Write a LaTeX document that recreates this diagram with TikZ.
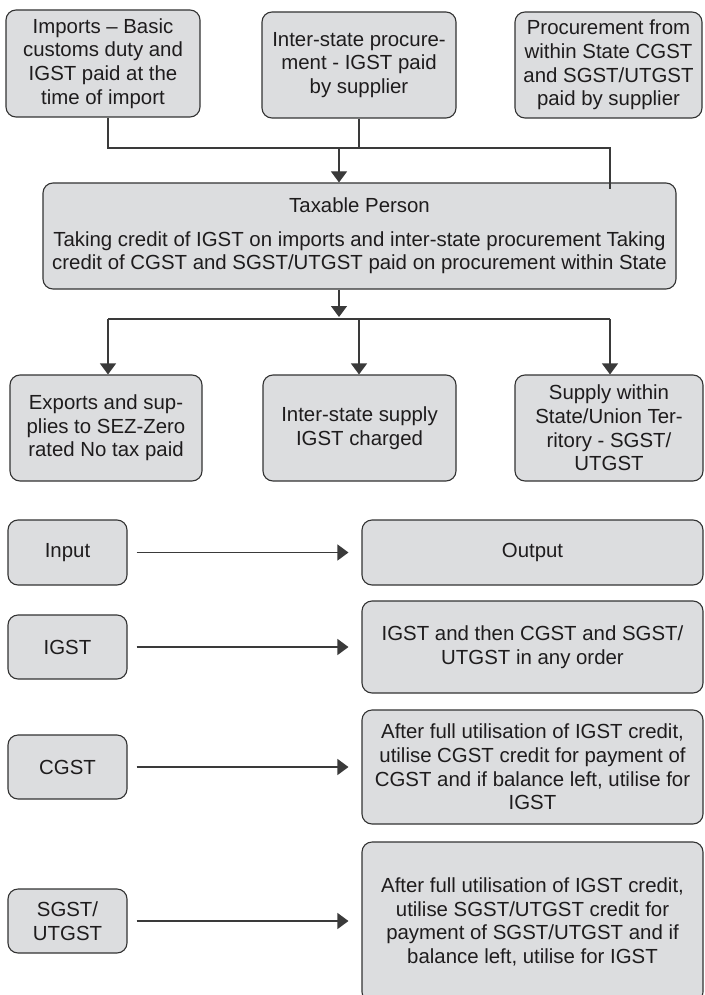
\documentclass[tikz,border=0pt]{standalone}
\usepackage{fontspec}
\setmainfont{Liberation Sans}
\usetikzlibrary{arrows.meta,calc}
\definecolor{boxfill}{HTML}{DCDDDF}
\definecolor{boxline}{HTML}{333333}
\definecolor{txt}{HTML}{1E1C1D}
\definecolor{conn}{HTML}{3A3A3A}
\begin{document}
\begin{tikzpicture}[x=1pt,y=-1pt,
  box/.style={draw=boxline, fill=boxfill, line width=1.1pt, rounded corners=10pt,
    align=center, inner sep=2pt, text=txt,
    font=\fontsize{20.4}{23.6}\selectfont},
  conline/.style={draw=conn, line width=1.1pt},
  arr/.style={conline, -{Triangle[width=16pt,length=11pt]}}]
\useasboundingbox (0,0) rectangle (704,995);
% top row
\node[box, minimum width=194pt, minimum height=107pt] (A) at (103,63.5)
  {Imports -- Basic\\customs duty and\\IGST paid at the\\time of import};
\node[box, minimum width=194pt, minimum height=106pt] (B) at (359,65)
  {Inter-state procure-\\ment - IGST paid\\by supplier};
\node[box, minimum width=187pt, minimum height=106pt] (C) at (608.5,65)
  {Procurement from\\within State CGST\\and SGST/UTGST\\paid by supplier};
% taxable person
\node[box, minimum width=633pt, minimum height=106pt] (T) at (359.5,236)
  {Taxable Person\\[10pt]Taking credit of IGST on imports and inter-state procurement Taking\\credit of CGST and SGST/UTGST paid on procurement within State};
% bottom row
\node[box, minimum width=192pt, minimum height=106pt] (D) at (106,428)
  {Exports and sup-\\plies to SEZ-Zero\\rated No tax paid};
\node[box, minimum width=193pt, minimum height=106pt] (E) at (359.5,428)
  {Inter-state supply\\IGST charged};
\node[box, minimum width=188pt, minimum height=106pt] (F) at (609,428)
  {Supply within\\State/Union Ter-\\ritory - SGST/\\UTGST};
% input/output table
\node[box, minimum width=119pt, minimum height=65pt] (In) at (67.5,552.5) {Input};
\node[box, minimum width=341pt, minimum height=65pt] (Out) at (532.5,552.5) {Output};
\node[box, minimum width=119pt, minimum height=64pt] (IG) at (67.5,647) {IGST};
\node[box, minimum width=341pt, minimum height=92pt] (IGo) at (532.5,647)
  {IGST and then CGST and SGST/\\UTGST in any order};
\node[box, minimum width=119pt, minimum height=64pt] (CG) at (67.5,767) {CGST};
\node[box, minimum width=341pt, minimum height=114pt] (CGo) at (532.5,767)
  {After full utilisation of IGST credit,\\utilise CGST credit for payment of\\CGST and if balance left, utilise for\\IGST};
\node[box, minimum width=119pt, minimum height=64pt] (SG) at (67.5,921) {SGST/\\UTGST};
\node[box, minimum width=341pt, minimum height=160pt] (SGo) at (532.5,922)
  {After full utilisation of IGST credit,\\utilise SGST/UTGST credit for\\payment of SGST/UTGST and if\\balance left, utilise for IGST};
% upper connectors
\coordinate (j1) at (108,148);
\coordinate (j3) at (610,148);
\coordinate (j3e) at (610,189);
\coordinate (m1) at (339,148);
\draw[conline] (A.south -| j1) -- (j1) -- (j3) -- (j3e);
\draw[conline] (B.south) -- (B.south |- j1);
\draw[arr] (m1) -- (m1 |- T.north);
% lower connectors
\coordinate (m2) at (339,317);
\coordinate (k1) at (108,319);
\coordinate (k2) at (359,319);
\coordinate (k3) at (610,319);
\draw[arr] (T.south -| m2) -- (m2);
\draw[conline] (k1) -- (k3);
\draw[arr] (k1) -- (k1 |- D.north);
\draw[arr] (k2) -- (k2 |- E.north);
\draw[arr] (k3) -- (k3 |- F.north);
% input -> output arrows
\draw[arr, shorten <=9pt, shorten >=13pt] (In.east) -- (In.east -| Out.west);
\draw[arr, shorten <=9pt, shorten >=13pt] (IG.east) -- (IG.east -| IGo.west);
\draw[arr, shorten <=9pt, shorten >=13pt] (CG.east) -- (CG.east -| CGo.west);
\draw[arr, shorten <=9pt, shorten >=13pt] (SG.east) -- (SG.east -| SGo.west);
\end{tikzpicture}
\end{document}
